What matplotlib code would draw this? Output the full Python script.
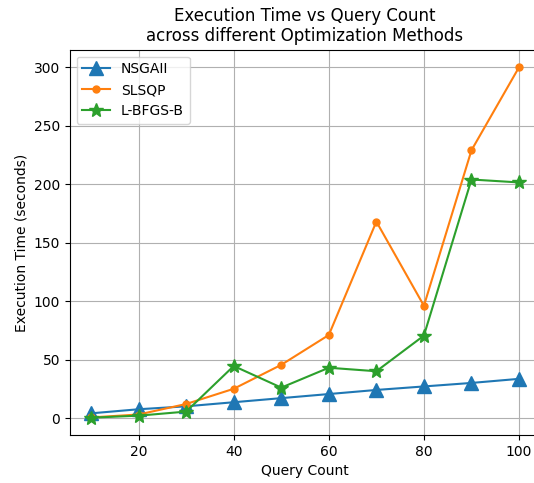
import matplotlib
matplotlib.use("Agg")
import matplotlib.pyplot as plt

query_counts = [10, 20, 30, 40, 50, 60, 70, 80, 90, 100]
nsgaii = [4.0, 7.5, 10.0, 13.5, 17.0, 20.5, 24.0, 27.0, 30.0, 33.5]
slsqp = [0.5, 3.0, 12.0, 25.0, 45.5, 71.0, 168.0, 96.0, 229.0, 300.0]
lbfgsb = [0.3, 2.0, 5.5, 44.5, 26.0, 43.0, 40.0, 70.5, 204.0, 201.5]

fig, ax = plt.subplots(figsize=(5.34, 4.83), dpi=100)
ax.plot(query_counts, nsgaii, marker='^', markersize=10, label='NSGAII')
ax.plot(query_counts, slsqp, marker='o', markersize=5, label='SLSQP')
ax.plot(query_counts, lbfgsb, marker='*', markersize=10, label='L-BFGS-B')
ax.set_title('Execution Time vs Query Count\nacross different Optimization Methods')
ax.set_xlabel('Query Count')
ax.set_ylabel('Execution Time (seconds)')
ax.grid(True)
ax.legend(loc='upper left')
fig.subplots_adjust(left=0.1305, right=1.012, top=0.897, bottom=0.099)
fig.savefig('out.png', dpi=100)
